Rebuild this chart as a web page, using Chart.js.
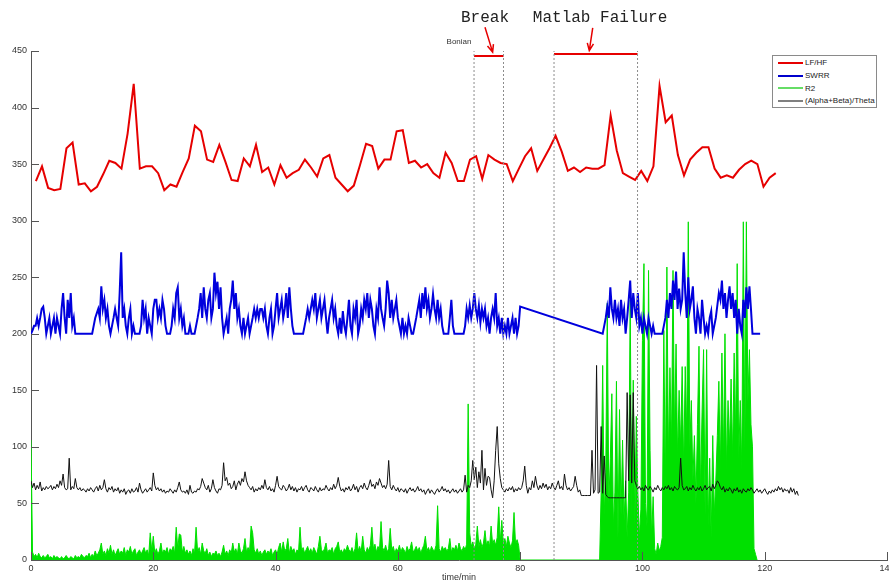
<!DOCTYPE html>
<html>
<head>
<meta charset="utf-8">
<script src="https://cdn.jsdelivr.net/npm/chart.js@4/dist/chart.umd.min.js"></script>
<style>
  html, body { margin: 0; padding: 0; background: #fff; overflow: hidden; }
  #wrap { position: relative; width: 889px; height: 581px; }
  #legend {
    position: absolute; left: 772px; top: 55px; width: 105px; height: 53px;
    box-sizing: border-box; border: 1px solid #8a8a8a; background: #fff;
    padding-top: 0.5px; font: 8px "Liberation Sans", Arial, sans-serif; color: #222;
  }
  #legend .row { height: 12.7px; display: flex; align-items: center; white-space: nowrap; }
  #legend .swatch { display: inline-block; width: 25px; height: 2px; margin: 0 2px 0 5px; }
</style>
</head>
<body>
<div id="wrap">
  <canvas id="chart" width="889" height="581"></canvas>
  <div id="legend"></div>
</div>
<script>
// ----- DATI -----
const seriesNames = ['LF/HF', 'SWRR', 'R2', '(Alpha+Beta)/Theta'];
const seriesColors = ['#e60000', '#0000dd', '#00e000', '#111111'];
const legendColors = ['#e60000', '#0000cc', '#66dd66', '#808080'];

const xTicks = [0, 20, 40, 60, 80, 100, 120, 140];
const yTicks = [0, 50, 100, 150, 200, 250, 300, 350, 400, 450];

// LF/HF, un punto al minuto, primo punto a t = 0.8
const lfhfStart = 0.8;
const lfhf = [
  335,348,329,327,328,364,369,332,333,326,
  330,341,353,351,346,377,421,346,348,348,
  342,327,332,330,343,355,384,379,354,352,
  367,352,336,335,355,348,367,343,347,332,
  349,338,342,345,354,347,339,355,358,338,
  332,326,331,349,368,366,346,354,354,379,
  380,351,353,347,350,342,338,360,351,335,
  335,354,357,337,358,354,351,350,335,346,
  357,364,344,354,364,375,361,344,347,343,
  347,346,346,349,393,362,342,339,336,344,
  335,348,419,387,393,358,340,354,360,365,
  365,346,338,340,338,345,350,353,350,330,
  338,342
];

// SWRR, passo 0.25 min: tratto 0-80, poi tratto 93.5-119.25
const sampleStep = 0.25;
const swrrStartA = 0;
const swrrA = [
  200,203,207,207, 214,207,214,222, 224,214,200,207, 214,200,207,214, 200,214,207,200,
  222,236,214,200, 230,214,236,207, 214,200,200,200, 200,200,200,200, 200,200,200,200,
  200,207,214,218, 222,214,242,222, 230,214,222,207, 200,207,214,222, 214,207,236,272,
  214,222,207,200, 214,222,200,207, 200,200,200,200, 207,230,214,222, 200,214,207,200,
  222,230,230,214, 222,214,230,222, 207,200,200,200, 207,222,214,236, 241,214,222,207,
  214,200,200,200, 207,200,200,200, 207,214,222,236, 214,241,222,214, 230,236,214,222,
  254,236,246,222, 241,214,200,207, 214,200,222,230, 247,222,236,214, 222,207,200,214,
  200,207,214,200, 207,214,222,214, 222,214,222,222, 214,222,207,200, 214,222,200,207,
  222,236,214,222, 230,214,222,236, 214,241,222,207, 200,200,200,200, 200,200,200,207,
  214,222,214,222, 230,222,236,214, 222,230,214,222, 230,214,200,214, 222,230,214,222,
  207,200,214,200, 220,207,200,214, 230,207,200,222, 214,230,200,207, 222,214,230,222,
  236,214,230,222, 207,200,222,214, 241,222,214,207, 222,247,236,214, 230,214,222,230,
  214,207,200,214, 200,207,200,214, 207,200,200,207, 214,222,230,214, 236,222,241,222,
  230,214,222,235, 222,214,230,214, 222,207,200,200, 200,200,214,230, 207,200,200,200,
  200,200,200,200, 207,222,214,225, 214,222,236,222, 214,225,210,222, 214,222,207,214,
  200,214,222,214, 236,207,214,200, 214,200,207,200, 214,200,207,214, 200,214,200,207,
  224
];
const swrrStartB = 93.5;
const swrrB = [
  200,207,
  214,224,214,241, 222,214,230,214, 222,207,230,214, 222,200,214,230, 247,214,236,222,
  214,236,207,214, 200,214,207,200, 214,207,200,207, 200,200,200,200, 200,200,207,214,
  230,214,236,222, 247,230,255,222, 240,222,230,272, 236,214,250,222, 230,242,214,200,
  222,214,200,230, 214,200,207,200, 214,220,200,207, 214,225,236,230, 247,222,236,214,
  230,242,222,236, 214,230,200,222, 207,200,230,214, 241,222,242,222,
  200,200,200,200,200,200
];

// R2, passo 0.25 min: tratto 0-80, poi tratto 93-118.75
const r2StartA = 0;
const r2A = [
  106,7,3,5, 2,6,3,2, 4,2,3,5, 2,3,1,4, 2,3,2,1,
  3,1,2,4, 2,1,3,2, 1,4,2,3, 2,5,3,2, 4,3,6,2,
  5,3,8,4, 6,9,15,5, 8,4,10,6, 13,5,9,4, 7,10,5,8,
  6,11,4,9, 7,12,5,8, 10,4,7,9, 5,8,11,6, 9,4,24,8,
  21,6,10,5, 8,15,6,9, 7,11,5,10, 8,12,6,29, 10,23,22,7,
  12,6,9,5, 8,4,10,6, 29,7,11,5, 15,8,6,10, 4,7,3,6,
  5,8,4,6, 3,7,13,5, 8,4,9,6, 15,7,10,5, 15,8,6,10,
  19,7,11,8, 30,24,9,6, 10,5,8,4, 7,9,5,8, 6,10,4,7,
  9,5,11,15, 7,16,8,10, 19,6,12,8, 10,5,9,7, 29,8,11,6,
  9,12,7,10, 6,11,8,5, 12,21,9,7, 10,15,6,9, 8,11,5,10,
  12,16,7,9, 6,10,8,13, 9,7,11,6, 10,24,8,12, 7,21,9,6,
  11,8,13,29, 10,14,7,12, 9,34,11,8, 13,7,10,28, 9,12,6,10,
  8,13,7,11, 9,6,12,8, 10,16,7,9, 12,8,11,6, 10,13,21,8,
  11,7,12,9, 8,13,48,10, 7,12,9,11, 8,10,19,7, 11,9,13,8,
  15,10,8,12, 9,14,138,24, 12,16,10,14, 30,12,18,11, 15,26,13,17,
  12,30,14,18, 13,20,47,16, 35,14,19,12, 21,15,11,17, 42,14,18,13,
  0
];
const r2StartB = 93;
const r2B = [
  0,60,172,40, 77,227,50,90, 147,30,60,158, 20,133,40,106, 35,70,20,60,
  230,40,159,30, 127,60,20,45, 194,262,50,30, 256,97,20,56, 10,5,15,8,
  12,20,203,60, 259,90,170,100, 256,110,191,90, 150,100,171,80, 171,110,299,100,
  141,70,110,50, 120,189,60,130, 186,40,186,30, 90,20,110,40, 70,110,158,80,
  183,90,200,80, 141,100,160,90, 183,110,262,90, 141,80,299,100, 299,140,186,120,
  100,10,5,0
];

// (Alpha+Beta)/Theta, passo 0.25 min da t = 0
const abtStart = 0;
const abt = [
  70,64,68,62, 66,63,69,61, 64,62,65,63, 64,66,62,65, 63,67,64,70,
  66,76,64,62, 63,90,62,65, 63,72,64,62, 64,61,63,62, 60,63,61,64,
  62,60,63,65, 61,66,62,64, 71,63,60,64, 62,65,60,63, 61,64,59,62,
  60,63,58,61, 62,59,63,60, 61,64,60,68, 62,59,61,63, 60,62,64,61,
  77,66,62,64, 61,63,60,62, 59,61,60,63, 61,59,62,60, 64,69,62,60,
  61,59,62,58, 66,60,59,61, 60,63,62,65, 72,68,64,62, 66,60,63,71,
  64,61,59,63, 62,66,86,70, 73,66,68,63, 65,70,62,67, 70,66,72,69,
  78,70,66,64, 62,65,60,63, 61,64,62,66, 63,71,64,62, 65,61,63,60,
  66,74,65,63, 62,66,64,61, 63,67,62,65, 61,64,60,63, 62,65,61,64,
  66,62,60,64, 63,61,65,62, 60,64,61,63, 62,66,63,61, 64,62,67,63,
  66,73,65,61, 63,60,64,62, 65,61,63,67, 62,65,60,64, 66,63,68,64,
  62,66,71,65, 67,63,69,66, 72,68,64,66, 63,67,88,65, 62,66,63,61,
  64,60,63,62, 60,63,59,62, 64,61,63,60, 62,65,61,63, 60,62,58,61,
  63,59,62,60, 58,61,63,60, 62,65,61,63, 60,62,59,61, 63,60,62,59,
  61,63,60,62, 75,60,66,64, 70,88,71,82, 64,78,68,97, 62,81,66,74,
  73,62,55,70, 97,118,85,72, 64,62,60,63, 61,64,62,65, 60,63,61,64,
  62,64,70,83, 66,59,64,62, 70,64,74,66, 62,66,63,68, 64,67,62,65,
  63,68,64,62, 66,70,63,65, 62,76,66,62, 64,61,63,65, 74,66,60,62,
  57,57,57,57, 57,57,57,97, 59,62,172,59, 60,118,59,92, 58,56,55,55,
  55,55,55,55, 55,55,55,55, 55,55,148,70, 146,68,148,70, 66,63,65,62,
  64,61,66,63, 62,65,63,60, 64,62,66,63, 61,64,62,65, 63,66,62,64,
  61,65,63,62, 64,90,66,62, 63,65,61,64, 62,66,63,61, 64,62,65,61,
  63,66,62,64, 65,61,67,63, 66,70,68,64, 62,65,60,63, 61,64,62,59,
  63,61,64,60, 62,59,63,61, 60,63,61,64, 62,59,61,63, 60,62,59,61,
  63,60,58,61, 59,62,60,63, 61,65,62,64, 60,63,61,62, 59,64,60,63,
  58,61,57
];

// Annotazioni (in unità dei dati)
const markTimes = [72.46, 77.28, 85.54, 99.2];
const breakSpan = [72.46, 77.28];
const breakLevel = 445.6;
const failSpan = [85.54, 99.2];
const failLevel = 447.4;
const labelLevel = 479;
const breakLabelT = 74.25;
const failLabelT = 93.07;
const bonianT = 70.0;
const bonianLevel = 458;
const breakArrow = [[74.25, 471], [75.5, 449]];
const failArrow = [[91.87, 470.4], [91.31, 450.3]];

// ----- FUNZIONI -----
function toPoints(start, step, values) {
  return values.map((v, i) => ({ x: start + i * step, y: v }));
}

const AXIS_COLOR = '#555';
const LABEL_COLOR = '#333';
const FONT = '"Liberation Sans", Arial, sans-serif';

const datasets = [
  {
    label: seriesNames[0], data: toPoints(lfhfStart, 1, lfhf),
    borderColor: seriesColors[0], borderWidth: 2, order: 1
  },
  {
    label: seriesNames[1],
    data: toPoints(swrrStartA, sampleStep, swrrA).concat(toPoints(swrrStartB, sampleStep, swrrB)),
    borderColor: seriesColors[1], borderWidth: 2, order: 2
  },
  {
    label: seriesNames[2],
    data: toPoints(r2StartA, sampleStep, r2A).concat(toPoints(r2StartB, sampleStep, r2B)),
    borderColor: seriesColors[2], backgroundColor: seriesColors[2],
    borderWidth: 1, fill: 'origin', order: 4
  },
  {
    label: seriesNames[3], data: toPoints(abtStart, sampleStep, abt),
    borderColor: seriesColors[3], borderWidth: 1, order: 3
  }
];

// linee verticali tratteggiate
markTimes.forEach(t => {
  datasets.push({
    label: 'mark', data: [{ x: t, y: 0 }, { x: t, y: 450.3 }],
    borderColor: '#8c8c8c', borderWidth: 1, borderDash: [2, 2], order: 0
  });
});
// segmenti rossi Break / Matlab Failure
[[breakSpan, breakLevel], [failSpan, failLevel]].forEach(([span, lvl]) => {
  datasets.push({
    label: 'span', data: [{ x: span[0], y: lvl }, { x: span[1], y: lvl }],
    borderColor: '#e60000', borderWidth: 2, order: 0
  });
});

function drawArrow(ctx, x0, y0, x1, y1) {
  const a = Math.atan2(y1 - y0, x1 - x0);
  const len = 8, spread = 0.4;
  ctx.beginPath();
  ctx.moveTo(x0, y0);
  ctx.lineTo(x1, y1);
  ctx.moveTo(x1 - len * Math.cos(a - spread), y1 - len * Math.sin(a - spread));
  ctx.lineTo(x1, y1);
  ctx.lineTo(x1 - len * Math.cos(a + spread), y1 - len * Math.sin(a + spread));
  ctx.stroke();
}

// tacche interne stile MATLAB + annotazioni
const overlayPlugin = {
  id: 'overlay',
  afterDraw(chart) {
    const { ctx, scales: { x, y } } = chart;
    ctx.save();
    ctx.strokeStyle = AXIS_COLOR;
    ctx.lineWidth = 1;
    ctx.beginPath();
    x.ticks.forEach((t, i) => {
      const px = Math.round(x.getPixelForTick(i)) + 0.5;
      ctx.moveTo(px, y.bottom);
      ctx.lineTo(px, y.bottom - 8);
    });
    y.ticks.forEach((t, i) => {
      const py = Math.round(y.getPixelForTick(i)) + 0.5;
      ctx.moveTo(x.left, py);
      ctx.lineTo(x.left + 8, py);
    });
    ctx.stroke();

    ctx.fillStyle = '#222';
    ctx.textAlign = 'center';
    ctx.textBaseline = 'middle';
    ctx.font = '16px "Liberation Mono", monospace';
    ctx.fillText('Break', x.getPixelForValue(breakLabelT), y.getPixelForValue(labelLevel));
    ctx.fillText('Matlab Failure', x.getPixelForValue(failLabelT), y.getPixelForValue(labelLevel));
    ctx.font = '8px ' + FONT;
    ctx.fillStyle = '#333';
    ctx.fillText('Bonian', x.getPixelForValue(bonianT), y.getPixelForValue(bonianLevel));

    ctx.strokeStyle = '#e60000';
    ctx.lineWidth = 1.5;
    [breakArrow, failArrow].forEach(([p0, p1]) => {
      drawArrow(ctx,
        x.getPixelForValue(p0[0]), y.getPixelForValue(p0[1]),
        x.getPixelForValue(p1[0]), y.getPixelForValue(p1[1]));
    });
    ctx.restore();
  }
};

// legenda HTML
const legendEl = document.getElementById('legend');
seriesNames.forEach((name, i) => {
  const row = document.createElement('div');
  row.className = 'row';
  const sw = document.createElement('span');
  sw.className = 'swatch';
  sw.style.background = legendColors[i];
  row.appendChild(sw);
  row.appendChild(document.createTextNode(name));
  legendEl.appendChild(row);
});

new Chart(document.getElementById('chart').getContext('2d'), {
  type: 'line',
  data: { datasets },
  options: {
    responsive: false,
    animation: false,
    parsing: false,
    normalized: true,
    elements: { point: { radius: 0 }, line: { tension: 0 } },
    layout: { padding: { top: 51, right: 2, left: 0, bottom: 0 } },
    plugins: { legend: { display: false }, tooltip: { enabled: false } },
    scales: {
      x: {
        type: 'linear', min: 0, max: 140,
        afterBuildTicks: s => { s.ticks = xTicks.map(v => ({ value: v })); },
        afterFit: s => { s.height = 21; s.paddingLeft = 0; s.paddingRight = 0; },
        grid: { display: false, drawTicks: false },
        border: { color: AXIS_COLOR, width: 1 },
        ticks: { color: LABEL_COLOR, font: { size: 9, family: FONT }, padding: 3, maxRotation: 0, autoSkip: false },
        title: { display: true, text: 'time/min', color: LABEL_COLOR, font: { size: 9, family: FONT }, padding: { top: 0, bottom: -2 } }
      },
      y: {
        type: 'linear', min: 0, max: 450,
        afterBuildTicks: s => { s.ticks = yTicks.map(v => ({ value: v })); },
        afterFit: s => { s.width = 31; s.paddingTop = 0; s.paddingBottom = 0; },
        grid: { display: false, drawTicks: false },
        border: { color: AXIS_COLOR, width: 1 },
        ticks: { color: LABEL_COLOR, font: { size: 9, family: FONT }, padding: 4, autoSkip: false }
      }
    }
  },
  plugins: [overlayPlugin]
});
</script>
</body>
</html>
